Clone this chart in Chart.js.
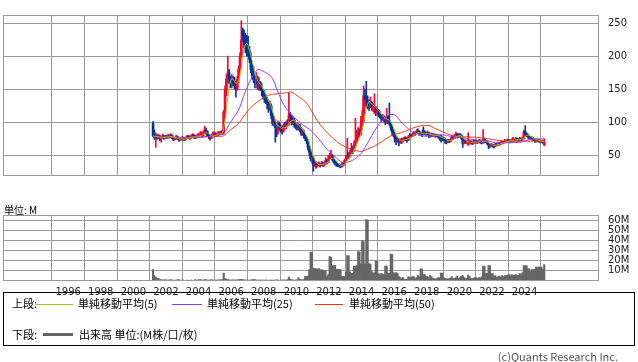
<!DOCTYPE html>
<html lang="ja">
<head>
<meta charset="UTF-8" />
<title>Chart</title>
<script src="https://cdn.jsdelivr.net/npm/chart.js"></script>
<style>
  body { margin: 0; width: 638px; height: 362px; background: #fff; position: relative; overflow: hidden; font-family: "Noto Sans CJK JP", sans-serif; color: #000; }
  canvas { position: absolute; left: 0; }
  #price { top: 0; }
  #volume { top: 200px; }
  .t { position: absolute; white-space: nowrap; font-size: 11px; line-height: 11px; }
  .ln { position: absolute; height: 0; }
  #legend { position: absolute; left: 3px; top: 292px; width: 632px; height: 54px; border: 1px solid #000; box-sizing: border-box; }
</style>
</head>
<body>
<canvas id="price" width="638" height="191"></canvas>
<canvas id="volume" width="638" height="96"></canvas>
<div class="t" style="left:4px; top:204px; font-size:10px; background:#fff; padding-right:2px;">単位: M</div>
<div id="legend"></div>
<div class="t" style="left:12px; top:298px;">上段:</div>
<div class="ln" style="left:35px; width:38px; top:304px; border-top:1px solid #99cc00;"></div>
<div class="t" style="left:78px; top:298px;">単純移動平均(5)</div>
<div class="ln" style="left:172px; width:30px; top:304px; border-top:1px solid #9933ff;"></div>
<div class="t" style="left:207px; top:298px;">単純移動平均(25)</div>
<div class="ln" style="left:315px; width:28px; top:304px; border-top:1px solid #ff3300;"></div>
<div class="t" style="left:349px; top:298px;">単純移動平均(50)</div>
<div class="t" style="left:12px; top:329px;">下段:</div>
<div class="ln" style="left:43px; width:30px; top:333px; border-top:3px solid #666;"></div>
<div class="t" style="left:79px; top:329px;">出来高 単位:(M株/口/枚)</div>
<div class="t" style="right:20px; top:351px; color:#555;">(c)Quants Research Inc.</div>
<script>
// monthly candles, Mar 2001 .. Mar 2025
const startYear = 2001, startMonth = 3;

const opens = [
  98, 80, 77, 79, 76, 78, 75, 77, 79, 76,
  78, 77, 79, 78, 80, 76, 74, 75, 78, 75, 73, 74,
  76, 75, 74, 76, 78, 77, 76, 79, 80, 78, 77, 79,
  80, 81, 83, 80, 84, 88, 86, 80, 78, 76, 79, 82,
  83, 80, 82, 84, 83, 85, 84, 115, 150, 165, 175, 165,
  160, 165, 160, 158, 150, 165, 180, 200, 238, 232, 218, 212,
  210, 208, 195, 180, 170, 165, 160, 165, 152, 160, 150, 148,
  140, 138, 135, 128, 120, 125, 110, 98, 100, 92, 85, 98,
  92, 90, 87, 95, 93, 98, 97, 110, 106, 100, 103, 96,
  95, 92, 95, 90, 84, 86, 80, 76, 72, 62, 55, 42,
  46, 35, 38, 34, 36, 37, 35, 38, 36, 37, 42, 40,
  45, 48, 50, 44, 40, 38, 36, 35, 34, 33, 37, 36,
  42, 45, 50, 48, 55, 60, 58, 65, 72, 80, 85, 82,
  95, 102, 140, 135, 132, 128, 125, 130, 122, 115, 120, 116,
  118, 112, 110, 105, 108, 104, 100, 108, 102, 98, 92, 85,
  82, 75, 72, 74, 70, 73, 72, 74, 76, 75, 73, 78,
  80, 79, 82, 84, 83, 86, 85, 82, 84, 88, 85, 83,
  82, 84, 80, 79, 82, 80, 81, 79, 80, 78, 79, 77,
  75, 74, 72, 70, 72, 71, 74, 78, 76, 80, 82, 78,
  81, 80, 76, 68, 72, 69, 66, 68, 71, 69, 68, 72,
  70, 71, 70, 72, 70, 69, 74, 70, 71, 68, 65, 64,
  66, 65, 64, 67, 66, 68, 67, 70, 69, 70, 72, 71,
  73, 72, 71, 73, 74, 72, 75, 74, 73, 75, 74, 76,
  86, 82, 80, 78, 76, 77, 75, 74, 73, 72, 73, 71,
  70, 71, 66
];
const highs = [
  101, 88, 84, 81, 82, 80, 79, 82, 80, 80,
  80, 82, 81, 83, 81, 77, 77, 80, 79, 77, 76, 78,
  78, 77, 78, 80, 80, 79, 81, 83, 82, 80, 81, 83,
  84, 86, 85, 87, 94, 91, 87, 82, 80, 82, 85, 86,
  84, 84, 86, 86, 87, 88, 118, 155, 172, 200, 180, 170,
  172, 170, 168, 162, 170, 185, 205, 254, 243, 240, 235, 232,
  230, 215, 205, 188, 185, 172, 175, 170, 168, 162, 158, 150,
  148, 142, 138, 132, 132, 128, 114, 108, 104, 96, 102, 100,
  96, 93, 98, 100, 102, 104, 145, 115, 110, 108, 106, 100,
  99, 98, 97, 92, 90, 88, 82, 78, 74, 64, 57, 50,
  48, 42, 40, 39, 40, 38, 41, 40, 39, 46, 44, 50,
  53, 58, 52, 46, 42, 40, 38, 37, 36, 39, 39, 44,
  50, 76, 54, 58, 68, 63, 72, 106, 88, 92, 90, 109,
  118, 155, 150, 162, 140, 134, 138, 132, 128, 143, 124, 122,
  120, 116, 112, 112, 110, 106, 121, 110, 129, 100, 94, 88,
  84, 78, 77, 75, 75, 76, 76, 78, 78, 76, 80, 83,
  82, 84, 86, 86, 89, 90, 87, 86, 85, 93, 87, 85,
  87, 85, 82, 84, 83, 83, 82, 82, 81, 79, 80, 78,
  77, 76, 74, 74, 74, 76, 80, 79, 82, 85, 83, 83,
  83, 81, 77, 74, 73, 73, 84, 73, 72, 70, 74, 73,
  73, 72, 74, 73, 71, 89, 76, 73, 72, 69, 67, 68,
  67, 66, 69, 68, 70, 69, 71, 72, 71, 74, 73, 75,
  74, 73, 75, 77, 75, 77, 76, 75, 77, 76, 78, 88,
  95, 84, 82, 79, 79, 78, 77, 75, 74, 75, 74, 72,
  73, 72, 75
];
const lows = [
  78, 74, 62, 74, 75, 72, 70, 76, 74, 75,
  75, 76, 76, 77, 75, 72, 73, 74, 74, 71, 72, 73,
  73, 72, 73, 75, 75, 74, 75, 78, 76, 75, 76, 78,
  79, 80, 78, 79, 83, 82, 78, 75, 73, 75, 78, 80,
  78, 78, 80, 81, 82, 82, 82, 112, 140, 160, 158, 152,
  152, 155, 150, 138, 148, 160, 175, 198, 222, 212, 205, 200,
  200, 190, 175, 165, 160, 152, 158, 150, 148, 148, 140, 135,
  130, 128, 120, 115, 118, 105, 95, 94, 70, 78, 82, 88,
  85, 82, 85, 90, 90, 94, 95, 102, 96, 97, 92, 90,
  88, 88, 86, 80, 80, 76, 72, 68, 58, 50, 41, 38,
  26, 33, 30, 32, 34, 32, 34, 33, 33, 36, 37, 39,
  44, 46, 42, 38, 35, 33, 33, 32, 31, 32, 34, 35,
  41, 44, 45, 47, 53, 52, 56, 63, 70, 76, 78, 80,
  90, 100, 125, 122, 120, 118, 122, 118, 116, 113, 110, 112,
  108, 106, 100, 103, 100, 96, 98, 98, 95, 88, 80, 78,
  70, 66, 70, 64, 68, 68, 70, 72, 72, 70, 72, 76,
  77, 78, 80, 80, 82, 83, 80, 81, 78, 82, 81, 80,
  81, 77, 77, 78, 78, 79, 77, 78, 76, 73, 70, 72,
  72, 68, 67, 69, 69, 70, 73, 74, 75, 78, 76, 77,
  78, 74, 62, 67, 68, 68, 65, 67, 67, 66, 67, 69,
  68, 68, 69, 68, 67, 68, 69, 69, 66, 60, 62, 63,
  62, 61, 63, 64, 65, 65, 66, 68, 67, 69, 69, 70,
  70, 69, 70, 72, 71, 71, 73, 71, 72, 72, 73, 75,
  80, 78, 76, 74, 75, 73, 72, 70, 70, 71, 70, 69,
  69, 68, 64
];
const closes = [
  80, 77, 79, 76, 78, 75, 77, 79, 76, 78,
  77, 79, 78, 80, 76, 74, 75, 78, 75, 73, 74, 76,
  75, 74, 76, 78, 77, 76, 79, 80, 78, 77, 79, 80,
  81, 83, 80, 84, 88, 86, 80, 78, 76, 79, 82, 83,
  80, 82, 84, 83, 85, 84, 115, 150, 165, 175, 165, 160,
  165, 160, 158, 150, 165, 180, 200, 225, 232, 218, 212, 210,
  208, 195, 180, 170, 165, 160, 165, 152, 160, 150, 148, 140,
  138, 135, 128, 120, 125, 110, 98, 100, 92, 85, 98, 92,
  90, 87, 95, 93, 98, 97, 110, 106, 100, 103, 96, 95,
  92, 95, 90, 84, 86, 80, 76, 72, 62, 55, 45, 46,
  35, 38, 34, 36, 37, 35, 38, 36, 37, 42, 40, 45,
  48, 50, 44, 40, 38, 36, 35, 34, 33, 37, 36, 42,
  45, 50, 48, 55, 60, 58, 65, 72, 80, 85, 82, 95,
  102, 140, 135, 132, 128, 125, 130, 122, 124, 120, 116, 118,
  112, 110, 105, 108, 104, 100, 108, 102, 98, 92, 85, 82,
  75, 72, 74, 70, 73, 72, 74, 76, 75, 73, 78, 80,
  79, 82, 84, 83, 86, 85, 82, 84, 80, 85, 83, 82,
  84, 80, 79, 82, 80, 81, 79, 80, 78, 76, 77, 75,
  74, 72, 70, 72, 71, 74, 78, 76, 80, 82, 78, 80,
  80, 76, 68, 72, 70, 70, 68, 71, 69, 68, 72, 70,
  71, 70, 72, 70, 69, 74, 70, 71, 68, 65, 64, 66,
  65, 64, 67, 66, 68, 67, 70, 69, 70, 72, 71, 73,
  72, 71, 73, 74, 72, 75, 74, 73, 75, 74, 76, 86,
  82, 80, 78, 76, 77, 75, 74, 73, 72, 73, 71, 70,
  71, 70, 70
];
// volume in millions
const volumes = [
  11, 5, 3.3, 2, 2, 1, 0.8, 0.5, 0.5, 1,
  0.5, 0.3, 0.3, 0.8, 0.3, 0.2, 0.3, 0.2, 1, 0.8, 0.2, 0.3,
  0.3, 0.2, 0.2, 0.3, 0.2, 0.2, 0.3, 0.2, 0.2, 0.8, 0.5, 0.3,
  0.8, 1, 0.4, 0.5, 0.8, 1, 0.5, 0.3, 0.3, 0.8, 0.4, 0.5,
  0.3, 0.3, 0.5, 1, 0.5, 0.8, 7.5, 2, 1.5, 1, 0.6, 0.5,
  0.5, 0.6, 0.4, 0.5, 0.6, 0.8, 1, 1.2, 0.8, 0.6, 0.5, 0.4,
  0.3, 0.4, 0.3, 0.8, 1, 0.8, 0.5, 0.3, 0.3, 0.4, 0.3, 0.3,
  0.3, 0.3, 0.3, 0.2, 0.3, 0.3, 0.2, 0.3, 0.5, 0.6, 0.3, 0.2,
  0.3, 0.5, 0.6, 0.3, 0.4, 1, 3.3, 1.2, 0.8, 0.5, 0.4, 0.3,
  0.6, 2.8, 1.2, 0.6, 0.8, 0.8, 4.2, 4, 4.5, 11, 28.5, 28,
  12.5, 12.2, 11.7, 11.5, 11.8, 10.5, 10.8, 10.2, 9.7, 9.5, 4, 6,
  24, 23.5, 15, 14.6, 15.2, 11, 11.3, 10.8, 11, 4, 4.2, 3.8,
  8.4, 25, 24.6, 8.4, 7, 7.3, 14.5, 14.2, 14.8, 29, 28.6, 16.7,
  39.6, 39, 16.7, 61, 60.5, 17, 16.5, 9, 7, 8, 19.5, 19.2,
  7, 6, 7.2, 6.2, 6, 14.5, 14.3, 7, 7.2, 26.5, 26.2, 8,
  7, 8, 7, 4, 3, 2, 3, 1.5, 1, 1.5, 4, 3,
  3, 4, 4, 2, 3, 5, 4, 11.7, 11.5, 6, 6, 4,
  4, 3, 5, 4, 2, 2, 1.5, 2, 3, 3, 7.5, 7.3,
  3, 2, 2, 1.5, 2, 2.5, 4, 2, 2, 3, 4.5, 2,
  3, 4.4, 5, 3, 2, 2, 5.5, 4, 2, 2, 2.5, 3,
  3, 2, 3, 2.5, 4, 14.5, 14.2, 7, 7.2, 15, 14.8, 7,
  7, 4, 5, 3, 4, 4.5, 3.5, 5, 4, 5, 5, 5.5,
  6, 5, 6, 5, 5.5, 6, 5, 5.5, 7, 6, 8, 15,
  15, 14.8, 12, 11.6, 9, 11, 10.8, 11.2, 13.4, 13.2, 13.6, 13.4,
  13.4, 11, 16
];

const yearTicks = [1996, 1998, 2000, 2002, 2004, 2006, 2008, 2010, 2012, 2014, 2016, 2018, 2020, 2022, 2024];
const priceTicks = [50, 100, 150, 200, 250];
const volumeTicks = [10, 20, 30, 40, 50, 60];

// month centre as fractional year
const xs = closes.map((c, i) => startYear + (startMonth - 1 + i + 0.5) / 12);

function sma(n) {
  return closes.map((c, i) => {
    const s = closes.slice(Math.max(0, i - n + 1), i + 1);
    return { x: xs[i], y: s.reduce((a, b) => a + b, 0) / s.length };
  });
}

const UP = "#ff0033", DOWN = "#003399", GRID = "#999999";
const candleColors = closes.map((c, i) => (c >= opens[i] ? UP : DOWN));

Chart.defaults.font.family = "DejaVu Sans";
Chart.defaults.font.size = 10;
Chart.defaults.color = "#222";

const frame = {
  id: "frame",
  afterDraw(chart) {
    const a = chart.chartArea, ctx = chart.ctx;
    ctx.save();
    ctx.strokeStyle = GRID;
    ctx.lineWidth = 1;
    ctx.strokeRect(a.left, a.top, a.right - a.left, a.bottom - a.top);
    ctx.restore();
  },
};

const xMin = 1993.25, xMax = 2027.32;

new Chart(document.getElementById("price"), {
  type: "bar",
  data: {
    datasets: [
      { type: "line", data: sma(5), borderColor: "#99cc00", borderWidth: 1, pointRadius: 0, order: 0 },
      { type: "line", data: sma(25), borderColor: "#9933ff", borderWidth: 1, pointRadius: 0, order: 0 },
      { type: "line", data: sma(50), borderColor: "#ff3300", borderWidth: 1, pointRadius: 0, order: 0 },
      {
        data: xs.map((x, i) => ({ x: x, y: [lows[i], highs[i]] })),
        backgroundColor: candleColors, barThickness: 1, grouped: false, order: 2,
      },
      {
        data: xs.map((x, i) => ({ x: x, y: [opens[i], closes[i]] })),
        backgroundColor: candleColors, barThickness: 2, minBarLength: 1, grouped: false, order: 1,
      },
    ],
  },
  options: {
    animation: false,
    responsive: false,
    events: [],
    layout: { padding: { top: 0.5, left: 3.5, right: 0, bottom: 0.5 } },
    plugins: { legend: { display: false }, tooltip: { enabled: false } },
    scales: {
      x: {
        type: "linear", min: xMin, max: xMax,
        afterBuildTicks: (s) => { s.ticks = yearTicks.map((v) => ({ value: v })); },
        afterFit: (s) => { s.height = 0; },
        ticks: { display: false },
        grid: { color: GRID, drawTicks: false },
        border: { display: false },
      },
      y: {
        position: "right", min: 19.4, max: 261.5,
        afterBuildTicks: (s) => { s.ticks = priceTicks.map((v) => ({ value: v })); },
        afterFit: (s) => { s.width = 39.5; },
        ticks: { padding: 9.5 },
        grid: { color: GRID, drawTicks: false },
        border: { display: false },
      },
    },
  },
  plugins: [frame],
});

new Chart(document.getElementById("volume"), {
  type: "bar",
  data: {
    datasets: [
      {
        data: xs.map((x, i) => ({ x: x, y: volumes[i] })),
        backgroundColor: "#666666", barThickness: 1.46, grouped: false,
      },
    ],
  },
  options: {
    animation: false,
    responsive: false,
    events: [],
    layout: { padding: { top: 2.5, left: 3.5, right: 0, bottom: 0 } },
    plugins: { legend: { display: false }, tooltip: { enabled: false } },
    scales: {
      x: {
        type: "linear", min: xMin, max: xMax,
        afterBuildTicks: (s) => { s.ticks = yearTicks.map((v) => ({ value: v })); },
        afterFit: (s) => { s.height = 15.5; },
        ticks: { padding: 6, callback: (v) => String(v), maxRotation: 0, autoSkip: false },
        grid: { color: GRID, drawTicks: false },
        border: { display: false },
      },
      y: {
        position: "right", min: 0, max: 65,
        afterBuildTicks: (s) => { s.ticks = volumeTicks.map((v) => ({ value: v })); },
        afterFit: (s) => { s.width = 39.5; },
        ticks: { padding: 9.5, callback: (v) => v + "M" },
        grid: { color: GRID, drawTicks: false },
        border: { display: false },
      },
    },
  },
  plugins: [frame],
});
</script>
</body>
</html>
